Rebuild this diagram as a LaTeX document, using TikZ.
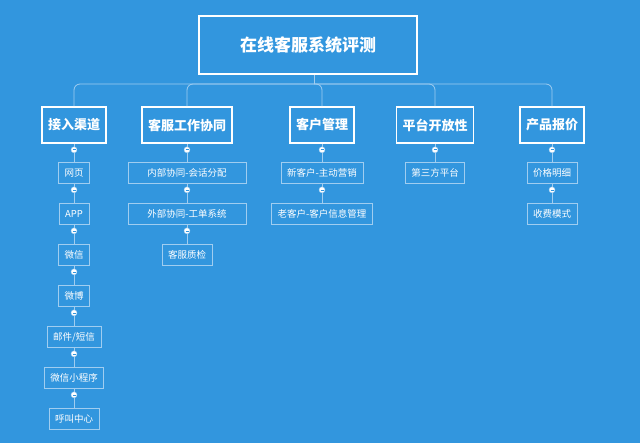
\documentclass[tikz,border=0pt]{standalone}
\usepackage{fontspec}
\newfontfamily\cjk{Noto Sans CJK SC}
\usetikzlibrary{positioning, calc}
\definecolor{bgblue}{RGB}{50,150,222}
\definecolor{leafline}{RGB}{160,205,240}
\begin{document}
\begin{tikzpicture}[x=1pt, y=-1pt,
  root/.style={draw=white, line width=2.4pt, minimum width=218pt, minimum height=58pt, font=\cjk\fontsize{17}{17}\selectfont\bfseries, text=white},
  topic/.style={draw=white, line width=1.6pt, minimum height=36pt, inner xsep=6pt, font=\cjk\fontsize{13}{13}\selectfont\bfseries, text=white},
  leaf/.style={draw=leafline, line width=0.7pt, minimum height=21pt, inner xsep=6pt, font=\cjk\fontsize{9.5}{9.5}\selectfont, text=white},
  knob/.style={circle, fill=white, draw=leafline, inner sep=0pt, minimum size=6pt, path picture={\draw[bgblue, line width=0.6pt] (path picture bounding box.west) ++(1.5pt,0) -- ++(3pt,0);}},
  link/.style={draw=leafline, line width=0.8pt}]
\fill[bgblue] (0,0) rectangle (640,443);
\useasboundingbox (0,0) rectangle (640,443);

% root and first level
\node (top) [root] at (308,45) {在线客服系统评测};
\node (t1) [topic] at (74,125) {接入渠道};
\node (t2) [topic] at (187,125) {客服工作协同};
\node (t3) [topic] at (322,125) {客户管理};
\node (t4) [topic] at (435,125) {平台开放性};
\node (t5) [topic] at (552,125) {产品报价};

% connectors from the root
\coordinate (bus) at (314,84);
\draw[link] (top.south -| bus) -- (bus);
\foreach \t in {t1,t2,t3,t4,t5}
  \draw[link, rounded corners=6pt] (bus) -| (\t.north);

% leaves
\foreach \n/\y/\txt in {a1/173/网页, a2/214/APP, a3/255/微信, a4/296/微博, a5/337/{邮件/短信}, a6/378/微信小程序, a7/419/呼叫中心}
  \node (\n) [leaf] at (74,\y) {\txt};
\node (b1) [leaf, minimum width=118pt] at (187,173) {内部协同-会话分配};
\node (b2) [leaf, minimum width=118pt] at (187,214) {外部协同-工单系统};
\node (b3) [leaf] at (187,255) {客服质检};
\node (c1) [leaf] at (322,173) {新客户-主动营销};
\node (c2) [leaf] at (322,214) {老客户-客户信息管理};
\node (d1) [leaf] at (435,173) {第三方平台};
\node (e1) [leaf] at (552,173) {价格明细};
\node (e2) [leaf] at (552,214) {收费模式};

% links with collapse knobs
\foreach \u/\v in {t1/a1, a1/a2, a2/a3, a3/a4, a4/a5, a5/a6, a6/a7,
                   t2/b1, b1/b2, b2/b3, t3/c1, c1/c2, t4/d1, t5/e1, e1/e2} {
  \draw[link] (\u.south) -- (\v.north);
  \node[knob] at ($(\u.south)+(0,6)$) {};
}
\end{tikzpicture}
\end{document}
